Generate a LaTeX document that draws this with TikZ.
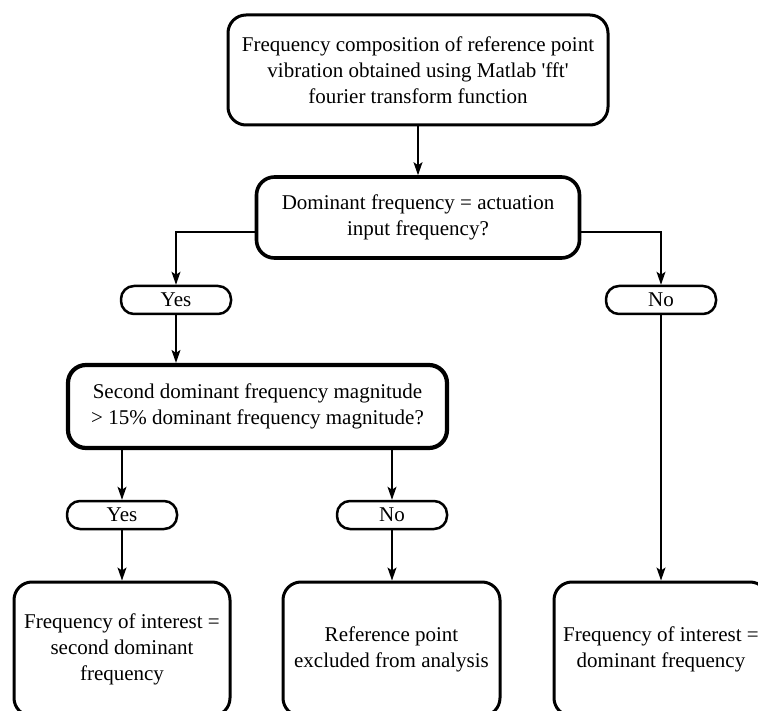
\documentclass[tikz,border=0pt]{standalone}
\usepackage{fontspec}
\setmainfont{Liberation Serif}
\usetikzlibrary{arrows.meta}
\begin{document}
\begin{tikzpicture}[x=1pt,y=-1pt,
  box/.style={draw, line width=3pt, rounded corners=18pt, align=center, inner sep=0pt, font=\fontsize{21}{26}\selectfont},
  pill/.style={draw, line width=2.5pt, rounded corners=13pt, minimum width=110pt, minimum height=28pt, inner sep=0pt, font=\fontsize{21}{24}\selectfont},
  arr/.style={line width=1.3pt, -{Stealth[length=13pt,width=9pt,inset=3pt]}},
  ln/.style={line width=1.3pt}]
\useasboundingbox (0,0) rectangle (758,711);
\clip (0,0) rectangle (758,711);
\node[box, minimum width=380pt, minimum height=110pt] (top) at (418,70) {Frequency composition of reference point\\vibration obtained using Matlab \textquotesingle fft\textquotesingle\\fourier transform function};
\node[box, line width=3.6pt, minimum width=323pt, minimum height=81pt] (d1) at (418,217.5) {Dominant frequency = actuation\\input frequency?};
\node[pill] (yes1) at (176,300) {Yes};
\node[pill] (no1) at (661,300) {No};
\node[box, line width=4.2pt, minimum width=379pt, minimum height=83pt] (d2) at (257.5,406.5) {Second dominant frequency magnitude\\> 15\% dominant frequency magnitude?};
\node[pill] (yes2) at (122,515) {Yes};
\node[pill] (no2) at (392,515) {No};
\node[box, minimum width=216pt, minimum height=134pt] (b1) at (122,649) {Frequency of interest =\\second dominant\\frequency};
\node[box, minimum width=217pt, minimum height=134pt] (b2) at (391.5,649) {Reference point\\excluded from analysis};
\node[box, minimum width=214pt, minimum height=134pt] (b3) at (661,649) {Frequency of interest =\\dominant frequency};
\draw[arr] (top.south) -- (d1.north);
\draw[arr] ([yshift=-14.5pt]d1.west) -| (yes1.north);
\draw[arr] ([yshift=-14.5pt]d1.east) -| (no1.north);
\draw[arr] (yes1.south) -- (d2.north -| yes1.south);
\draw[arr] (d2.south -| yes2.north) -- (yes2.north);
\draw[arr] (d2.south -| no2.north) -- (no2.north);
\draw[arr] (yes2.south) -- (b1.north -| yes2.south);
\draw[arr] (no2.south) -- (b2.north -| no2.south);
\draw[arr] (no1.south) -- (b3.north -| no1.south);
\end{tikzpicture}
\end{document}
